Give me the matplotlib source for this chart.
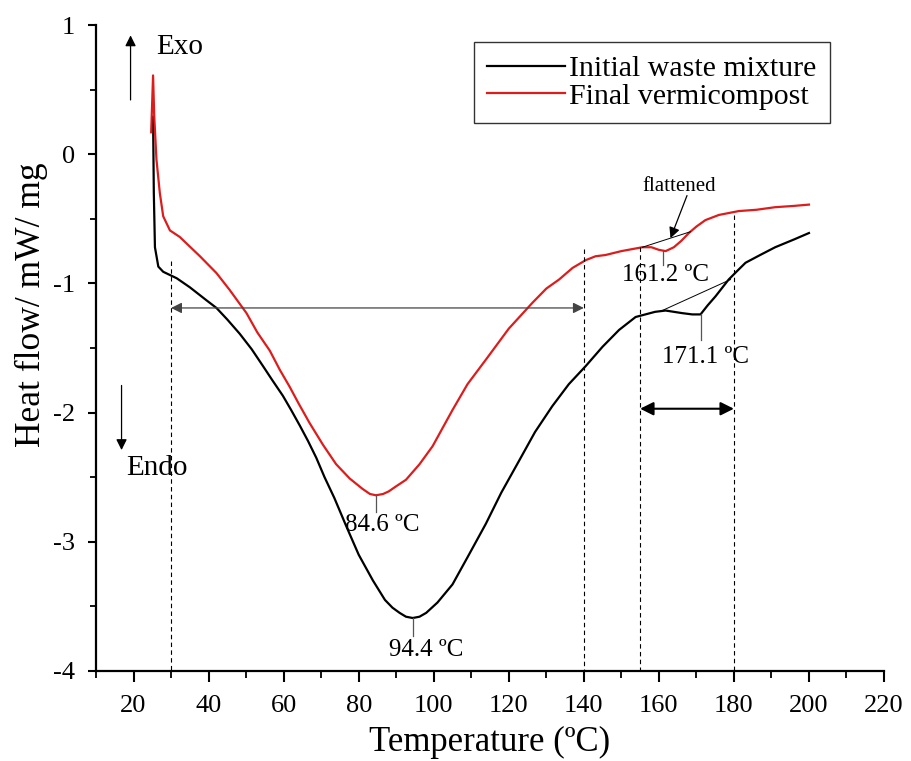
import matplotlib
matplotlib.use('Agg')
import matplotlib.pyplot as plt
from matplotlib.ticker import MultipleLocator

plt.rcParams['font.family'] = ['Liberation Serif', 'DejaVu Serif']
plt.rcParams['axes.unicode_minus'] = False

# initial waste mixture (black)
temp_initial = [25.2, 25.4, 25.7, 26.6, 27.9, 31.5, 35, 39.4, 42.1, 45, 48.3, 51.5, 54.5,
                57, 59.8, 62, 64.3, 66.5, 68.7, 70.9, 73.5, 76.7, 80, 83.8, 87, 89, 90.9,
                92.6, 94.4, 96.2, 98, 101, 105, 109, 113.9, 118, 122.8, 127, 131.6, 136,
                140.5, 145, 149.4, 153.8, 156.4, 159, 161.8, 164, 166.2, 168.9, 171.1, 173,
                175.1, 178.6, 181, 183.1, 187, 191, 196, 200]
heat_initial = [0.29, -0.3, -0.72, -0.87, -0.91, -0.96, -1.03, -1.13, -1.19, -1.28, -1.39,
                -1.51, -1.64, -1.75, -1.87, -1.98, -2.1, -2.22, -2.35, -2.5, -2.66, -2.88,
                -3.1, -3.3, -3.45, -3.51, -3.55, -3.58, -3.59, -3.58, -3.55, -3.47, -3.33,
                -3.12, -2.86, -2.62, -2.37, -2.15, -1.95, -1.78, -1.64, -1.49, -1.36, -1.26,
                -1.24, -1.22, -1.21, -1.22, -1.23, -1.24, -1.24, -1.17, -1.1, -0.97, -0.9,
                -0.84, -0.78, -0.72, -0.66, -0.61]

# final vermicompost (red)
temp_final = [24.7, 25.2, 25.5, 26.1, 27.0, 27.9, 29.7, 32.3, 34.1, 37.7, 42.1, 45.6, 50.1,
              53, 56.3, 59, 61.6, 64, 66.9, 70.5, 74, 77.6, 81, 83, 84.6, 86.5, 88, 90, 92.6,
              96.2, 99.7, 105, 109, 113.9, 120, 126.3, 130, 133.4, 137, 140.5, 143.1, 145.8,
              150, 155.6, 158, 160, 161.8, 164, 166, 168, 170, 172.4, 176, 181.3, 186, 191,
              196, 200]
heat_final = [0.17, 0.61, 0.3, -0.04, -0.3, -0.48, -0.59, -0.64, -0.69, -0.79, -0.92, -1.05,
              -1.23, -1.38, -1.52, -1.67, -1.8, -1.93, -2.08, -2.25, -2.4, -2.51, -2.59,
              -2.63, -2.64, -2.63, -2.61, -2.57, -2.52, -2.4, -2.26, -1.98, -1.78, -1.59,
              -1.35, -1.15, -1.04, -0.97, -0.88, -0.82, -0.79, -0.78, -0.75, -0.72, -0.72,
              -0.74, -0.75, -0.72, -0.67, -0.61, -0.56, -0.51, -0.47, -0.44, -0.43, -0.41,
              -0.4, -0.39]

fig = plt.figure(figsize=(9.12, 7.61), dpi=100)
ax = fig.add_axes([0.1053, 0.1183, 0.864, 0.8488])

ax.plot(temp_initial, heat_initial, color='black', lw=1.6, label='Initial waste mixture')
ax.plot(temp_final, heat_final, color='#dd1c1c', lw=1.6, label='Final vermicompost')

ax.set_xlim(10, 220)
ax.set_ylim(-4, 1)
ax.xaxis.set_major_locator(MultipleLocator(20))
ax.xaxis.set_minor_locator(MultipleLocator(10))
ax.yaxis.set_major_locator(MultipleLocator(1))
ax.yaxis.set_minor_locator(MultipleLocator(0.5))
ax.set_xticks(range(20, 221, 20))
ax.tick_params(axis='x', which='major', direction='out', length=8, width=1.5,
               labelsize=19, pad=9)
ax.tick_params(axis='x', which='minor', direction='out', length=5, width=1.3)
ax.tick_params(axis='y', which='major', direction='out', length=6, width=1.5,
               labelsize=19, pad=9)
ax.tick_params(axis='y', which='minor', direction='out', length=4, width=1.3)
for s in ['top', 'right']:
    ax.spines[s].set_visible(False)
for s in ['left', 'bottom']:
    ax.spines[s].set_linewidth(1.6)

ax.set_xlabel('Temperature (ºC)', fontsize=25)
ax.xaxis.set_label_coords(0.5, -0.085)
ax.set_ylabel('Heat flow/ mW/ mg', fontsize=25.5)
ax.yaxis.set_label_coords(-0.061, 0.567)

# dashed guides and range arrows
for xv, ytop in [(30, -0.83), (140, -0.73), (155, -0.72), (180, -0.47)]:
    ax.plot([xv, xv], [ytop, -4], color='black', lw=0.8, ls=(0, (4, 3)))
ax.annotate('', xy=(30, -1.19), xytext=(140, -1.19),
            arrowprops=dict(arrowstyle='<|-|>', color='#444444', lw=0.9,
                            mutation_scale=16, shrinkA=0, shrinkB=0))
ax.annotate('', xy=(155, -1.97), xytext=(180, -1.97),
            arrowprops=dict(arrowstyle='<|-|>', color='black', lw=1.5,
                            mutation_scale=20, shrinkA=0, shrinkB=0))

# exo / endo
ax.annotate('', xy=(19.2, 0.92), xytext=(19.2, 0.42),
            arrowprops=dict(arrowstyle='-|>', color='black', lw=0.9,
                            mutation_scale=16, shrinkA=0, shrinkB=0))
ax.text(32.3, 0.83, 'Exo', fontsize=21, ha='center', va='center')
ax.annotate('', xy=(16.8, -2.29), xytext=(16.8, -1.79),
            arrowprops=dict(arrowstyle='-|>', color='black', lw=0.9,
                            mutation_scale=16, shrinkA=0, shrinkB=0))
ax.text(26.1, -2.43, 'Endo', fontsize=21, ha='center', va='center')

# peak markers
ax.plot([84.6, 84.6], [-2.64, -2.77], color='#555555', lw=0.9)
ax.text(86.4, -2.87, '84.6 ºC', fontsize=18, ha='center', va='center')
ax.plot([94.4, 94.4], [-3.59, -3.73], color='#555555', lw=0.9)
ax.text(97.9, -3.84, '94.4 ºC', fontsize=18, ha='center', va='center')
ax.plot([161.2, 161.2], [-0.75, -0.86], color='#555555', lw=0.9)
ax.text(161.8, -0.935, '161.2 ºC', fontsize=18, ha='center', va='center')
ax.plot([171.1, 171.1], [-1.24, -1.44], color='#555555', lw=0.9)
ax.text(172.4, -1.57, '171.1 ºC', fontsize=18, ha='center', va='center')

# baselines
ax.plot([155.6, 168.4], [-0.72, -0.6], color='black', lw=0.7)
ax.plot([160.9, 179.1], [-1.21, -0.97], color='black', lw=0.7)
ax.text(165.3, -0.25, 'flattened', fontsize=15, ha='center', va='center')
ax.annotate('', xy=(163.1, -0.65), xytext=(167.5, -0.32),
            arrowprops=dict(arrowstyle='-|>', color='black', lw=0.9,
                            mutation_scale=16, shrinkA=0, shrinkB=0))

leg = ax.legend(loc='upper right', bbox_to_anchor=(0.9315, 0.9737), fontsize=21.5,
                frameon=True, fancybox=False, edgecolor='black', borderaxespad=0,
                handlelength=2.6, handletextpad=0.15, labelspacing=0.02, borderpad=0.45)
leg.get_frame().set_linewidth(1.0)

fig.savefig('out.png', dpi=100)
